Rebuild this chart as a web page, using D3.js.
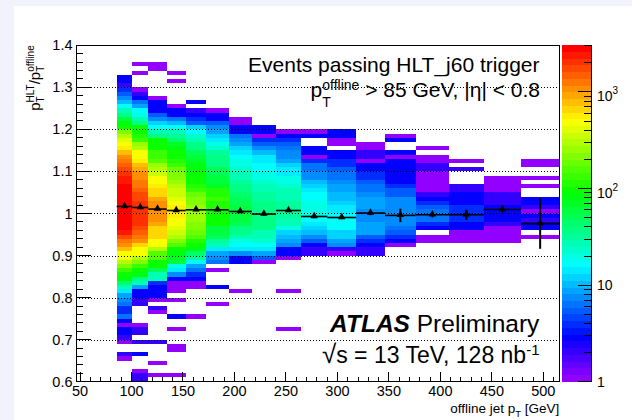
<!DOCTYPE html>
<html>
<head>
<meta charset="utf-8">
<script src="https://cdn.jsdelivr.net/npm/d3@7"></script>
<style>
  html, body { margin: 0; padding: 0; background: #f1f2fc; }
  svg { display: block; }
  text { font-family: "Liberation Sans", Arial, Helvetica, sans-serif; fill: #000; }
</style>
</head>
<body>
<svg id="chart" width="632" height="420"></svg>
<script>
// --- histogram binning ---
const xEdges = [85.6, 100.8, 116.3, 134.2, 152.7, 172.7, 194.4, 216.8, 240.4, 264.6,
                290.2, 318.1, 346.2, 376.0, 408.4, 442.1, 478.3, 515.5];
const xDomain = [46.1, 515.5];
const yDomain = [0.6, 1.4];
const yBinWidth = 0.01;
const zDomain = [1, 3040];

// first filled y bin (index from 0.60) of every column, then counts going up
const colStart = [5, 0, 1, 1, 15, 18, 21, 28, 12, 30, 30, 30, 32, 33, 33, 33, 34];

const c01 = [1,2,0,0,1,2,3,3,1,3, 6,4,4,6,7,9,14,28,45,80,
  100,130,220,300,450,500,800,1100,1300,1800, 2400,2600,2700,2800,2900,3000,3000,3000,2900,2800,
  2700,2600,2500,2300,2100,1800,1400,1200,1000,800, 600,500,400,280,200,100,80,60,40,28,
  16,10,7,5,4,2,3,3];
const c02 = [2,2,1,0,0,0,3,0,0,2, 0,2,2,1,0,0,0,0,2,2,
  3,3,9,25,40,80,100,130,220,300, 450,500,700,1000,1200,1600,1700,2000,2100,2100,
  2100,2100,2100,1800,1700,1600,1300,1200,1100,1100, 900,800,550,500,450,300,250,130,110,100,
  90,40,28,18,16,9,6,3,2,1, 0,0,0,1,0,1];
const c03 = [1,0,0,1,0,0,0,0,2,0, 0,0,0,0,0,1,2,0,1,3,
  3,3,4,25,28,50,100,100,150,150, 300,500,500,700,700,700,900,1000,1100,1100,
  1100,1000,900,700,700,550,500,500,350,300, 250,150,140,130,100,100,90,40,25,16,
  12,8,5,3,3,3,1,0,0,0, 0,0,0,1,1];
const c04 = [1,0,0,0,0,0,1,1,0,0, 0,1,0,0,3,0,0,0,1,0,
  1,1,1,3,8,14,18,60,70,80, 100,150,200,300,350,400,450,500,550,550,
  550,500,400,350,330,300,250,220,200,180, 130,110,100,90,80,70,45,30,25,16,
  11,6,3,3,1,0,0,0,0,0, 1,0,1];
const c05 = [1,0,0,0,0,0,0,1,1,3, 4,6,9,16,30,45,80,100,110,150,
  180,200,220,250,250,250,250,220,200,170, 140,120,100,100,90,80,80,70,60,50,
  40,35,28,22,16,12,5,4,3,2, 0,3];
const c06 = [1,0,0,0,3,0,0,0,1,0, 6,7,9,14,25,30,50,60,60,90,
  100,100,100,120,120,130,120,110,70,60, 60,55,50,40,35,35,30,22,18,14,
  12,9,8,5,3,3,1];
const c07 = [1,0,0,0,0,0,0,3,3,8, 14,16,20,25,35,40,50,60,60,60,
  60,55,50,45,40,35,30,28,25,22, 20,18,16,14,12,9,7,6,3,3, 1,1];
const c08 = [1,5,9,14,16,22,25,25,35,35, 35,40,40,40,35,30,30,28,25,22,
  20,20,16,16,15,14,10,8,5,4, 1,3,3];
const c09 = [1,0,0,0,0,0,0,0,0,1, 0,0,0,0,0,0,0,1,3,3,
  7,9,10,12,20,25,25,30,30,30, 30,28,28,25,22,20,18,14,14,12, 9,8,7,6,5,4,3,1];
const c10 = [2,2,3,5,7,10,12,14,16,18, 18,20,18,16,16,14,12,10,8,8, 6,6,4,1,3,3,0,0,3,1];
const c11 = [1,2,8,9,13,13,16,16,16,16, 14,14,13,10,10,9,9,7,6,6, 5,4,4,3,3,0,1,1,3,3];
const c12 = [2,2,3,4,5,9,9,9,8,8, 8,9,9,9,8,6,6,5,4,4, 3,3,1,2,2,1,1];
const c13 = [1,3,4,5,6,7,7,8,8,8, 8,7,5,5,4,3,3,3,3,3, 3,1,3,0,0,3,1];
const c14 = [1,1,0,3,4,6,6,6,5,4, 3,2,1,1,1,1,1,2,2,1, 1,0,1];
const c15 = [1,1,1,3,3,4,4,4,4,3, 3,3,2,2,0,0,0,2,0,1];
const c16 = [1,1,1,1,2,3,3,3,3,2, 2,2,1,1,1,1];
const c17 = [1,0,3,3,2,3,1,2,3,3, 0,0,1,0,1,0,0,1,1];
const columns = [c01, c02, c03, c04, c05, c06, c07, c08, c09, c10, c11, c12, c13, c14, c15, c16, c17];

// profile (mean ratio per column and its error)
const profMean = [1.0167, 1.0143, 1.0105, 1.0071, 1.0088, 1.0088, 1.0048, 0.9986, 1.0071,
                  0.9929, 0.9905, 1.0010, 0.9955, 0.9969, 0.9969, 1.0095, 0.9760];
const profErr = [0.001, 0.001, 0.001, 0.0015, 0.002, 0.002, 0.003, 0.003, 0.003,
                 0.004, 0.004, 0.005, 0.016, 0.006, 0.012, 0.007, 0.06];

// axis ticks and labels
const xTicks = [50, 100, 150, 200, 250, 300, 350, 400, 450, 500];
const yTicks = [0.6, 0.7, 0.8, 0.9, 1.0, 1.1, 1.2, 1.3, 1.4];
const yTickLabels = ['0.6', '0.7', '0.8', '0.9', '1', '1.1', '1.2', '1.3', '1.4'];
const yGrid = [0.7, 0.8, 0.9, 1.0, 1.1, 1.2, 1.3];
const zTicks = [1, 10, 100, 1000];
const zTickBase = ['1', '10', '10', '10'];
const zTickExp = ['', '', '2', '3'];

// --- layout ---
const frame = { left: 76, right: 559.3, top: 45.3, bottom: 381.7 };
const bar = { left: 562, right: 591 };
const nLevels = 50;

const svg = d3.select('#chart');

svg.append('rect')
  .attr('x', 14).attr('y', 6)
  .attr('width', 632 - 14).attr('height', 420 - 6)
  .attr('fill', '#fff');

const x = d3.scaleLinear().domain(xDomain).range([frame.left, frame.right]);
const y = d3.scaleLinear().domain(yDomain).range([frame.bottom, frame.top]);
const zScale = d3.scaleLog().domain(zDomain).range([frame.bottom, frame.top]);
const zLog = Math.log10(zDomain[1]);

// ROOT "pretty" palette: violet -> red
function levelColor(k) {
  return d3.hsl(280 - (k + 1) * 280 / nLevels, 1, 0.5).formatHex();
}
function zLevel(z) {
  const k = Math.floor(nLevels * Math.log10(z) / zLog);
  return Math.max(0, Math.min(nLevels - 1, k));
}

// flatten columns into cells
const cells = [];
columns.forEach((col, i) => {
  col.forEach((z, k) => {
    if (z > 0) cells.push({ i, j: colStart[i] + k, z });
  });
});

svg.append('g')
  .attr('shape-rendering', 'crispEdges')
  .selectAll('rect')
  .data(cells)
  .join('rect')
  .attr('x', d => x(xEdges[d.i]))
  .attr('width', d => x(xEdges[d.i + 1]) - x(xEdges[d.i]))
  .attr('y', d => y(yDomain[0] + (d.j + 1) * yBinWidth))
  .attr('height', d => y(yDomain[0] + d.j * yBinWidth) - y(yDomain[0] + (d.j + 1) * yBinWidth))
  .attr('fill', d => levelColor(zLevel(d.z)));

// dotted grid
svg.append('g')
  .selectAll('line')
  .data(yGrid)
  .join('line')
  .attr('x1', frame.left).attr('x2', frame.right)
  .attr('y1', d => Math.round(y(d)) + 0.5).attr('y2', d => Math.round(y(d)) + 0.5)
  .attr('stroke', '#000')
  .attr('stroke-width', 1)
  .attr('stroke-dasharray', '1,2');

// profile
const prof = profMean.map((m, i) => ({
  lo: xEdges[i], hi: xEdges[i + 1], mid: (xEdges[i] + xEdges[i + 1]) / 2, m, e: profErr[i]
}));
const pg = svg.append('g');
pg.selectAll('line.h')
  .data(prof)
  .join('line')
  .attr('class', 'h')
  .attr('x1', d => x(d.lo)).attr('x2', d => x(d.hi))
  .attr('y1', d => y(d.m)).attr('y2', d => y(d.m))
  .attr('stroke', '#000').attr('stroke-width', 1.6);
pg.selectAll('line.v')
  .data(prof)
  .join('line')
  .attr('class', 'v')
  .attr('x1', d => x(d.mid)).attr('x2', d => x(d.mid))
  .attr('y1', d => y(d.m - d.e)).attr('y2', d => y(d.m + d.e))
  .attr('stroke', '#000').attr('stroke-width', 2);
pg.selectAll('path')
  .data(prof)
  .join('path')
  .attr('d', d3.symbol(d3.symbolTriangle).size(24))
  .attr('transform', d => `translate(${x(d.mid)},${y(d.m) - 0.5})`)
  .attr('fill', '#000');

// frame and ticks
const ax = svg.append('g').attr('shape-rendering', 'crispEdges').attr('stroke', '#000');
ax.append('rect')
  .attr('x', frame.left).attr('y', frame.top)
  .attr('width', frame.right - frame.left).attr('height', frame.bottom - frame.top)
  .attr('fill', 'none');

const xMinor = d3.range(50, 511, 10);
ax.selectAll('line.xt')
  .data(xMinor)
  .join('line')
  .attr('class', 'xt')
  .attr('x1', d => x(d)).attr('x2', d => x(d))
  .attr('y1', frame.bottom)
  .attr('y2', d => frame.bottom - (d % 50 === 0 ? 10 : 5));

const yMinor = d3.range(0, 41).map(i => 0.6 + i * 0.02);
ax.selectAll('line.yt')
  .data(yMinor)
  .join('line')
  .attr('class', 'yt')
  .attr('y1', d => y(d)).attr('y2', d => y(d))
  .attr('x1', frame.left)
  .attr('x2', (d, i) => frame.left + (i % 5 === 0 ? 14.5 : 7));

svg.append('g')
  .selectAll('text')
  .data(xTicks)
  .join('text')
  .attr('x', d => x(d))
  .attr('y', 396)
  .attr('text-anchor', 'middle')
  .style('font-size', '14.5px')
  .text(d => d);

svg.append('g')
  .selectAll('text')
  .data(yTicks)
  .join('text')
  .attr('x', 72.5)
  .attr('y', d => y(d) + 5)
  .attr('text-anchor', 'end')
  .style('font-size', '14.5px')
  .text((d, i) => yTickLabels[i]);

// colour bar
svg.append('g')
  .attr('shape-rendering', 'crispEdges')
  .selectAll('rect')
  .data(d3.range(nLevels))
  .join('rect')
  .attr('x', bar.left)
  .attr('width', bar.right - bar.left)
  .attr('y', k => zScale(Math.pow(10, (k + 1) * zLog / nLevels)))
  .attr('height', k => zScale(Math.pow(10, k * zLog / nLevels)) - zScale(Math.pow(10, (k + 1) * zLog / nLevels)))
  .attr('fill', k => levelColor(k));

const zMinor = [];
zTicks.forEach(dec => d3.range(2, 10).forEach(m => { if (m * dec <= zDomain[1]) zMinor.push(m * dec); }));
const zg = svg.append('g').attr('shape-rendering', 'crispEdges').attr('stroke', '#000');
zg.append('line')
  .attr('x1', bar.right).attr('x2', bar.right)
  .attr('y1', frame.top).attr('y2', frame.bottom);
zg.selectAll('line.zM')
  .data(zTicks)
  .join('line')
  .attr('class', 'zM')
  .attr('x1', bar.right).attr('x2', bar.right - 13)
  .attr('y1', d => zScale(d)).attr('y2', d => zScale(d));
zg.selectAll('line.zm')
  .data(zMinor)
  .join('line')
  .attr('class', 'zm')
  .attr('x1', bar.right).attr('x2', bar.right - 7)
  .attr('y1', d => zScale(d)).attr('y2', d => zScale(d));

const zl = svg.append('g')
  .selectAll('text')
  .data(zTicks)
  .join('text')
  .attr('x', 597)
  .attr('y', (d, i) => zScale(d) + (zTickExp[i] ? 9 : 5))
  .style('font-size', '14px');
zl.append('tspan').text((d, i) => zTickBase[i]);
zl.append('tspan')
  .attr('dy', -7)
  .style('font-size', '10px')
  .text((d, i) => zTickExp[i]);

// --- latex-like text pieces: plain runs and stacked sub/superscripts ---
function rich(x0, y0, parts, anchor, rotate) {
  const g = svg.append('g');
  let cx = 0;
  parts.forEach(p => {
    if (p.text === undefined) {
      let w = 0;
      if (p.sup) {
        const t = g.append('text').attr('x', cx).attr('y', -p.rise)
          .style('font-size', p.size + 'px').text(p.sup);
        w = Math.max(w, t.node().getComputedTextLength());
      }
      if (p.sub) {
        const t = g.append('text').attr('x', cx).attr('y', p.drop)
          .style('font-size', p.size + 'px').text(p.sub);
        w = Math.max(w, t.node().getComputedTextLength());
      }
      cx += w;
    } else {
      const t = g.append('text')
        .attr('x', cx).attr('y', 0)
        .attr('xml:space', 'preserve')
        .style('white-space', 'pre')
        .style('font-size', p.size + 'px')
        .style('font-weight', p.bold ? 'bold' : null)
        .style('font-style', p.italic ? 'italic' : null)
        .text(p.text);
      cx += t.node().getComputedTextLength();
    }
  });
  const shift = anchor === 'end' ? -cx : 0;
  g.attr('transform', `translate(${x0},${y0})${rotate ? ' rotate(-90)' : ''} translate(${shift},0)`);
  return g;
}

rich(539.5, 71.7, [{ text: 'Events passing HLT_j60 trigger', size: 21 }], 'end');
rich(540, 96.7, [
  { text: 'p', size: 21 },
  { sup: 'offline', sub: 'T', size: 14, rise: 7, drop: 10 },
  { text: ' > 85 GeV, |η| < 0.8', size: 21 }
], 'end');
rich(539.3, 332, [
  { text: 'ATLAS', size: 24.5, bold: true, italic: true },
  { text: ' Preliminary', size: 24.5 }
], 'end');
rich(539.5, 363, [
  { text: '√', size: 26 },
  { text: 's = 13 TeV, 128 nb', size: 23 },
  { sup: '-1', size: 15, rise: 8 }
], 'end');

// axis titles
rich(559.3, 413, [
  { text: 'offline jet p', size: 13.5 },
  { sub: 'T', size: 9.5, drop: 4 },
  { text: ' [GeV]', size: 13.5 }
], 'end');
rich(40, 45.3, [
  { text: 'p', size: 15 },
  { sup: 'HLT', sub: 'T', size: 10, rise: 6, drop: 4 },
  { text: '/p', size: 15 },
  { sup: 'offline', sub: 'T', size: 10, rise: 6, drop: 4 }
], 'end', true);
</script>
</body>
</html>
